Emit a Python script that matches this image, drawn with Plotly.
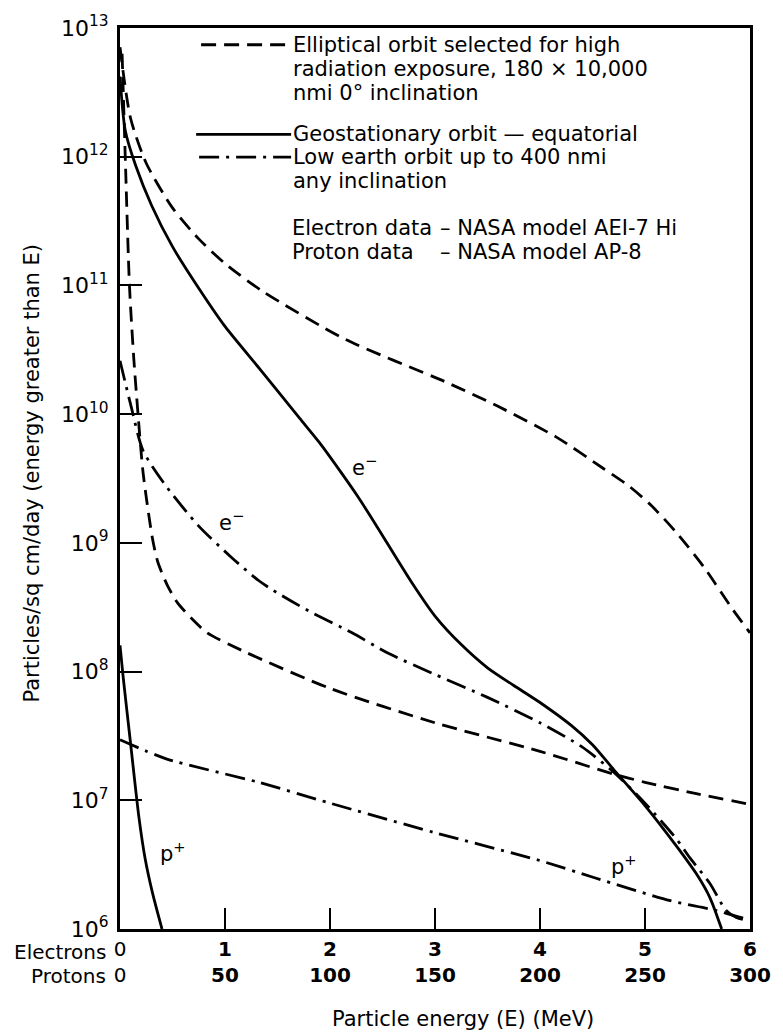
import math
import plotly.graph_objects as go

# ---------------- data (x in electron MeV; proton MeV = 50 * x) ----------------
ell_e_x = [0, 0.1, 0.25, 0.5, 0.75, 1.0, 1.35, 2.15, 3.1, 3.6, 4.16, 4.6, 4.85, 5.06,
           5.3, 5.56, 5.84, 6.0]
ell_e_y = [7.1e12, 2.0e12, 8.9e11, 4.0e11, 2.3e11, 1.48e11, 9.1e10, 3.8e10, 1.78e10,
           1.15e10, 6.6e9, 3.8e9, 2.75e9, 1.95e9, 1.2e9, 6.5e8, 3.0e8, 2.0e8]

geo_e_x = [0, 0.05, 0.15, 0.3, 0.5, 0.75, 1.0, 1.34, 1.71, 1.9, 2.09, 2.26, 2.43,
           2.78, 3.0, 3.25, 3.5, 3.75, 4.0, 4.3, 4.5, 4.7, 5.0, 5.3, 5.5, 5.62, 5.73]
geo_e_y = [4.2e12, 1.6e12, 8.5e11, 4.2e11, 2.0e11, 9.5e10, 4.8e10, 2.2e10, 9.3e9,
           6.0e9, 3.67e9, 2.32e9, 1.41e9, 4.9e8, 2.7e8, 1.62e8, 1.07e8, 7.8e7, 5.75e7,
           3.8e7, 2.7e7, 1.74e7, 9.1e6, 4.4e6, 2.6e6, 1.74e6, 1.0e6]

leo_e_x = [0, 0.1, 0.22, 0.44, 0.75, 1.07, 1.32, 1.46, 1.8, 2.21, 2.56, 3.0, 3.5, 4.0,
           4.4, 4.7, 5.0, 5.3, 5.43, 5.62, 5.77, 5.87, 6.0]
leo_e_y = [2.6e10, 1.2e10, 5.2e9, 2.75e9, 1.35e9, 7.6e8, 5.1e8, 4.27e8, 2.95e8,
           2.0e8, 1.38e8, 9.5e7, 6.3e7, 4.0e7, 2.6e7, 1.66e7, 9.5e6, 5.0e6, 3.55e6,
           2.25e6, 1.4e6, 1.23e6, 1.15e6]

ell_p_x = [0.02, 0.05, 0.09, 0.13, 0.16, 0.22, 0.31, 0.36, 0.45, 0.55, 0.68, 0.83,
           1.2, 2.0, 3.0, 4.0, 4.7, 5.0, 5.5, 6.0]
ell_p_y = [6.3e12, 1.0e12, 1.0e11, 2.8e10, 1.32e10, 3.5e9, 1.07e9, 7.1e8, 4.7e8,
           3.4e8, 2.6e8, 2.0e8, 1.41e8, 7.4e7, 4.0e7, 2.4e7, 1.6e7, 1.38e7,
           1.12e7, 9.3e6]

geo_p_x = [0, 0.03, 0.1, 0.18, 0.24, 0.31, 0.4]
geo_p_y = [1.6e8, 9.1e7, 2.8e7, 7.4e6, 3.5e6, 1.9e6, 1.0e6]

leo_p_x = [0, 0.44, 1.32, 2.0, 3.0, 4.0, 4.52, 5.24, 5.65, 6.0]
leo_p_y = [2.95e7, 2.1e7, 1.38e7, 9.5e6, 5.6e6, 3.4e6, 2.5e6, 1.66e6, 1.41e6, 1.17e6]

x_ticks = [0, 1, 2, 3, 4, 5, 6]
x_tick_e = ["0", "1", "2", "3", "4", "5", "6"]
x_tick_p = ["0", "50", "100", "150", "200", "250", "300"]
y_ticks = [1e6, 1e7, 1e8, 1e9, 1e10, 1e11, 1e12, 1e13]
y_tick_text = ["10<sup>%d</sup>" % k for k in range(6, 14)]

legend_rows = [
    ("dash", ["Elliptical orbit selected for high", "radiation exposure, 180 \u00d7 10,000",
              "nmi 0\u00b0 inclination"]),
    ("solid", ["Geostationary orbit \u2014 equatorial"]),
    ("dashdot", ["Low earth orbit up to 400 nmi", "any inclination"]),
]

# ---------------- layout constants ----------------
W, H = 783, 1032
L, R, T, B = 120, 757, 15, 929
FONT = "DejaVu Sans"
FS = 20
FL = 21
DASH = "15px,8px"
DASHDOT = "20px,7px,3px,7px"
LW = 2.8


def px(xp):
    return (xp - L) / (R - L)


def py(yp):
    return (B - yp) / (B - T)


fig = go.Figure()


def add(x, y, dash):
    fig.add_trace(go.Scatter(
        x=x, y=y, mode="lines", showlegend=False, hoverinfo="skip",
        line=dict(color="black", width=LW, dash=dash, shape="spline", smoothing=0.7),
    ))


add(ell_e_x, ell_e_y, DASH)
add(ell_p_x, ell_p_y, DASH)
add(geo_e_x, geo_e_y, "solid")
add(geo_p_x, geo_p_y, "solid")
add(leo_e_x, leo_e_y, DASHDOT)
add(leo_p_x, leo_p_y, DASHDOT)

ticktext = []
for e, p in zip(x_tick_e, x_tick_p):
    if e == "0":
        ticktext.append(e + "<br>" + p)
    else:
        ticktext.append("<b>" + e + "</b><br><b>" + p + "</b>")

fig.update_layout(
    width=W, height=H,
    margin=dict(l=L, r=W - R, t=T, b=H - B),
    paper_bgcolor="white", plot_bgcolor="white",
    font=dict(family=FONT, size=FS, color="black"),
    xaxis=dict(
        range=[0, 6], tickvals=x_ticks, ticktext=ticktext, ticks="inside",
        ticklen=21, tickwidth=1.5, tickcolor="black",
        showline=True, linewidth=3, linecolor="black", mirror=True,
        showgrid=False, zeroline=False, tickfont=dict(size=FS),
        ticklabeloverflow="allow",
    ),
    yaxis=dict(
        type="log", range=[6, 13], tickvals=y_ticks, ticktext=y_tick_text,
        ticks="inside", ticklen=22, tickwidth=1.5, tickcolor="black",
        showline=True, linewidth=3, linecolor="black", mirror=True,
        showgrid=False, zeroline=False, tickfont=dict(size=22),
        ticklabelstandoff=4, ticklabeloverflow="allow",
    ),
)

# ---------------- legend (drawn like the original) ----------------
row_y = {"dash": [32, 57, 81], "solid": [123], "dashdot": [146, 170]}
sample_x0 = {"dash": 202, "solid": 197, "dashdot": 200}
for style, lines in legend_rows:
    ys = row_y[style]
    fig.add_shape(type="line", xref="paper", yref="paper",
                  x0=px(sample_x0[style]), x1=px(293), y0=py(ys[0]), y1=py(ys[0]),
                  line=dict(color="black", width=LW,
                            dash={"dash": DASH, "solid": "solid", "dashdot": DASHDOT}[style]))
    for txt, yy in zip(lines, ys):
        fig.add_annotation(xref="paper", yref="paper", x=px(293), y=py(yy),
                           xanchor="left", yanchor="middle", showarrow=False,
                           text=txt, font=dict(size=FL))

for txt, xx, yy in [("Electron data", 292, 218), ("Proton data", 292, 242),
                    ("\u2013 NASA model AEI-7 Hi", 442, 218),
                    ("\u2013 NASA model AP-8", 442, 242)]:
    fig.add_annotation(xref="paper", yref="paper", x=px(xx), y=py(yy), xanchor="left",
                       yanchor="middle", showarrow=False, text=txt, font=dict(size=FL))

# curve labels
for xl, yl, t in [(2.33, 10 ** 9.6, "e<sup>\u2212</sup>"), (1.06, 10 ** 9.17, "e<sup>\u2212</sup>"),
                  (0.5, 10 ** 6.6, "p<sup>+</sup>"), (4.8, 10 ** 6.5, "p<sup>+</sup>")]:
    fig.add_annotation(x=xl, y=math.log10(yl), text=t, showarrow=False,
                       font=dict(size=FL))

# axis row names and titles
fig.add_annotation(xref="paper", yref="paper", x=px(108), y=py(952), xanchor="right",
                   yanchor="middle", showarrow=False, text="Electrons", font=dict(size=FS))
fig.add_annotation(xref="paper", yref="paper", x=px(108), y=py(977), xanchor="right",
                   yanchor="middle", showarrow=False, text="Protons", font=dict(size=FS))
fig.add_annotation(xref="paper", yref="paper", x=px(467), y=py(1020), xanchor="center",
                   yanchor="middle", showarrow=False, text="Particle energy (E) (MeV)",
                   font=dict(size=FL))
fig.add_annotation(xref="paper", yref="paper", x=px(31), y=py(466), xanchor="center",
                   yanchor="middle", showarrow=False, textangle=-90,
                   text="Particles/sq cm/day (energy greater than E)", font=dict(size=FL))

fig.write_html("out.html")
